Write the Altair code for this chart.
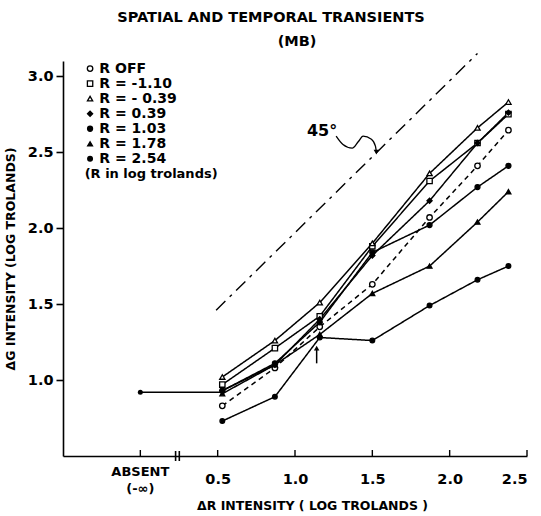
import altair as alt
import pandas as pd

# ---- data ----
series_names = ["R OFF", "R = -1.10", "R = - 0.39", "R = 0.39", "R = 1.03", "R = 1.78", "R = 2.54"]
x_vals = [0.53, 0.87, 1.16, 1.50, 1.87, 2.18, 2.38]
r_off = [0.83, 1.08, 1.35, 1.63, 2.07, 2.41, 2.645]
r_m110 = [0.97, 1.21, 1.42, 1.88, 2.31, 2.56, 2.75]
r_m039 = [1.02, 1.26, 1.51, 1.90, 2.36, 2.66, 2.83]
r_039 = [0.93, 1.10, 1.40, 1.82, 2.18, 2.56, 2.76]
r_103 = [0.93, 1.11, 1.38, 1.84, 2.02, 2.27, 2.41]
r_178 = [0.91, 1.10, 1.30, 1.57, 1.75, 2.04, 2.24]
r_254 = [0.73, 0.89, 1.28, 1.26, 1.49, 1.66, 1.75]
series_vals = [r_off, r_m110, r_m039, r_039, r_103, r_178, r_254]

absent_x = [0.0, 0.53]
absent_y = [0.92, 0.92]

shapes = ["circle", "square", "triangle-up", "diamond", "circle", "triangle-up", "circle"]
fills = ["white", "white", "white", "black", "black", "black", "black"]
sizes = [30, 22, 30, 40, 22, 22, 22]

diag_x = [0.49, 2.18]          # 45 degree reference line
diag_offset = 0.97
curl_x = [1.266, 1.31, 1.37, 1.41, 1.44, 1.494, 1.52, 1.526]
curl_y = [2.605, 2.55, 2.526, 2.57, 2.605, 2.585, 2.54, 2.50]
arrow_x = 1.14
arrow_y = [1.11, 1.21]

x_ticks = [0.5, 1.0, 1.5, 2.0, 2.5]
x_tick_marks = [0.0, 0.5, 1.0, 1.5, 2.0, 2.5]
y_ticks = [1.0, 1.5, 2.0, 2.5, 3.0]
break_x = [0.228, 0.252]

FONT = "DejaVu Sans"
W, H = 464, 395
XD = [-0.5, 2.5]
YD = [0.5, 3.1]

rows = []
for name, ys in zip(series_names, series_vals):
    for x, y in zip(x_vals, ys):
        rows.append({"series": name, "x": x, "y": y})
df = pd.DataFrame(rows)

xs = alt.Scale(domain=XD, nice=False, zero=False)
ys_ = alt.Scale(domain=YD, nice=False, zero=False)

X = alt.X("x:Q", scale=xs, axis=alt.Axis(
    values=x_ticks, format=".1f", ticks=False, grid=False,
    domainColor="black", domainWidth=1.6, labelFont=FONT, labelFontSize=14.5,
    labelFontWeight="bold", labelPadding=16, labelColor="black",
    title="ΔR INTENSITY ( LOG TROLANDS )", titleFont=FONT, titleFontSize=12.5,
    titleFontWeight="bold", titleColor="black", titleX=249, titleY=49,
    titleBaseline="middle", titleAlign="center"))
Y = alt.Y("y:Q", scale=ys_, axis=alt.Axis(
    values=y_ticks, format=".1f", tickSize=7, tickWidth=1.6, tickColor="black",
    grid=False, domainColor="black", domainWidth=1.6, labelFont=FONT,
    labelFontSize=14.5, labelFontWeight="bold", labelColor="black", labelPadding=3,
    title="ΔG INTENSITY (LOG TROLANDS)", titleFont=FONT, titleFontSize=12.5,
    titleFontWeight="bold", titleColor="black", titlePadding=10))

shape_scale = alt.Scale(domain=series_names, range=shapes)
fill_scale = alt.Scale(domain=series_names, range=fills)
size_scale = alt.Scale(domain=series_names, range=sizes)
dash_scale = alt.Scale(domain=series_names, range=[[5, 4]] + [[1, 0]] * 6)

lines = alt.Chart(df).mark_line(color="black", strokeWidth=1.5).encode(
    x=X, y=Y, detail="series:N",
    strokeDash=alt.StrokeDash("series:N", scale=dash_scale, legend=None))

points = alt.Chart(df).mark_point(filled=True, stroke="black", strokeWidth=1.3, opacity=1).encode(
    x=alt.X("x:Q", scale=xs), y=alt.Y("y:Q", scale=ys_),
    shape=alt.Shape("series:N", scale=shape_scale, legend=None),
    fill=alt.Fill("series:N", scale=fill_scale, legend=None),
    size=alt.Size("series:N", scale=size_scale, legend=None))

absent_df = pd.DataFrame({"x": absent_x, "y": absent_y})
absent_line = alt.Chart(absent_df).mark_line(color="black", strokeWidth=1.5).encode(
    x=alt.X("x:Q", scale=xs), y=alt.Y("y:Q", scale=ys_))
absent_pt = alt.Chart(absent_df.iloc[[0]]).mark_point(filled=True, color="black", size=25, opacity=1).encode(
    x=alt.X("x:Q", scale=xs), y=alt.Y("y:Q", scale=ys_))

diag_df = pd.DataFrame({"x": diag_x, "y": [v + diag_offset for v in diag_x]})
diag = alt.Chart(diag_df).mark_line(color="black", strokeWidth=1.4, strokeDash=[13, 6, 3, 6]).encode(
    x=alt.X("x:Q", scale=xs), y=alt.Y("y:Q", scale=ys_))

curl_df = pd.DataFrame({"x": curl_x, "y": curl_y, "o": range(len(curl_x))})
curl = alt.Chart(curl_df).mark_line(color="black", strokeWidth=1.3, interpolate="monotone").encode(
    x=alt.X("x:Q", scale=xs), y=alt.Y("y:Q", scale=ys_), order="o:O")
curl_head = alt.Chart(curl_df.iloc[[-1]]).mark_point(shape="triangle-down", filled=True, color="black", size=30, opacity=1).encode(
    x=alt.X("x:Q", scale=xs), y=alt.Y("y:Q", scale=ys_))
label45 = alt.Chart(pd.DataFrame({"x": [1.175], "y": [2.64], "t": ["45°"]})).mark_text(
    font=FONT, fontSize=16, fontWeight="bold", color="black").encode(
    x=alt.X("x:Q", scale=xs), y=alt.Y("y:Q", scale=ys_), text="t:N")

arr_df = pd.DataFrame({"x": [arrow_x], "y": [arrow_y[0]], "y2": [arrow_y[1]]})
arr = alt.Chart(arr_df).mark_rule(color="black", strokeWidth=1.5).encode(
    x=alt.X("x:Q", scale=xs), y=alt.Y("y:Q", scale=ys_), y2="y2:Q")
arr_head = alt.Chart(arr_df).mark_point(shape="triangle-up", filled=True, color="black", size=30, opacity=1).encode(
    x=alt.X("x:Q", scale=xs), y=alt.Y("y2:Q", scale=ys_))

# inward x ticks
xt_df = pd.DataFrame({"x": x_tick_marks})
xt = alt.Chart(xt_df).mark_rule(color="black", strokeWidth=1.4).encode(
    x=alt.X("x:Q", scale=xs), y=alt.value(H), y2=alt.value(H - 6))
# axis break marks
br_df = pd.DataFrame({"x": break_x})
br = alt.Chart(br_df).mark_rule(color="black", strokeWidth=1.6).encode(
    x=alt.X("x:Q", scale=xs), y=alt.value(H - 5), y2=alt.value(H + 5))

absent_lbl = alt.Chart(pd.DataFrame({"x": [0.0, 0.0], "t": ["ABSENT", "(-∞)"], "yy": [411, 428]})).mark_text(
    font=FONT, fontSize=13, fontWeight="bold", color="black").encode(
    x=alt.X("x:Q", scale=xs), y=alt.Y("yy:Q", scale=None), text="t:N")

# legend (drawn)
leg_rows = len(series_names)
leg_df = pd.DataFrame({"series": series_names, "i": list(range(leg_rows))})
leg_df["y"] = 3.05 - leg_df["i"] * 0.099
leg_df["xm"] = -0.325
leg_df["xt"] = -0.265
leg_pts = alt.Chart(leg_df).mark_point(filled=True, stroke="black", strokeWidth=1.3, opacity=1).encode(
    x=alt.X("xm:Q", scale=xs), y=alt.Y("y:Q", scale=ys_),
    shape=alt.Shape("series:N", scale=shape_scale, legend=None),
    fill=alt.Fill("series:N", scale=fill_scale, legend=None),
    size=alt.Size("series:N", scale=size_scale, legend=None))
leg_txt = alt.Chart(leg_df).mark_text(font=FONT, fontSize=14, fontWeight="bold", color="black",
                                      align="left", baseline="middle").encode(
    x=alt.X("xt:Q", scale=xs), y=alt.Y("y:Q", scale=ys_), text="series:N")
note = alt.Chart(pd.DataFrame({"x": [-0.36], "y": [3.05 - leg_rows * 0.099], "t": ["(R in log trolands)"]})).mark_text(
    font=FONT, fontSize=13, fontWeight="bold", color="black", align="left", baseline="middle").encode(
    x=alt.X("x:Q", scale=xs), y=alt.Y("y:Q", scale=ys_), text="t:N")

title_df = pd.DataFrame({"t": ["SPATIAL AND TEMPORAL TRANSIENTS", "(MB)"], "xx": [208, 234], "yy": [-43, -19]})
title = alt.Chart(title_df).mark_text(font=FONT, fontSize=14.5, fontWeight="bold", color="black").encode(
    x=alt.X("xx:Q", scale=None), y=alt.Y("yy:Q", scale=None), text="t:N")

chart = alt.layer(
    diag, curl, curl_head, label45, absent_line, absent_pt, lines, points, arr, arr_head,
    xt, br, absent_lbl, leg_pts, leg_txt, note, title
).resolve_scale(x="shared", y="shared").properties(
    width=W, height=H,
    padding={"left": 63, "top": 61, "right": 14, "bottom": 60},
    autosize=alt.AutoSizeParams(type="none"),
    background="white"
).configure_view(stroke=None)

chart.save("out.html", embed_options={"renderer": "svg", "actions": False})
